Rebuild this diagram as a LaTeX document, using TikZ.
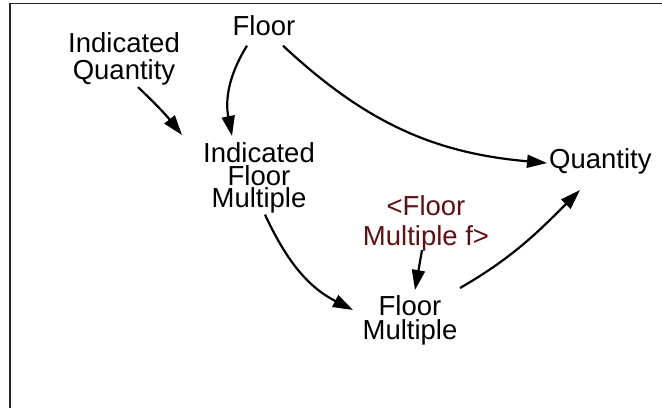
\documentclass[tikz,border=0pt]{standalone}
\usepackage{fontspec}
\setmainfont{Liberation Sans}
\usetikzlibrary{arrows.meta}
\definecolor{fmred}{RGB}{96,16,16}
\begin{document}
\begin{tikzpicture}[x=1bp,y=-1bp,
  var/.style={inner sep=0pt, outer sep=0pt, align=center, anchor=north},
  arr/.style={line width=2.2bp, -{Triangle[length=20bp,width=13bp]}, shorten >=0pt},
  frame/.style={line width=1.6bp, black!85}]
\useasboundingbox (0,0) rectangle (662,408);
\draw[frame] (10,408) -- (10,3.5) -- (662,3.5);

\node[var, font=\fontsize{27.5bp}{27bp}\selectfont] (IQ) at (124,32.5) {Indicated\\Quantity};
\node[var, font=\fontsize{27.5bp}{24bp}\selectfont] (F) at (264,15.5) {Floor};
\node[var, font=\fontsize{27.5bp}{22.5bp}\selectfont] (IFM) at (259,143) {Indicated\\Floor\\Multiple};
\node[inner sep=0pt, anchor=base west, font=\fontsize{27.5bp}{24bp}\selectfont] (Q) at (549,168) {Quantity};
\node[var, text=fmred, font=\fontsize{27.5bp}{30bp}\selectfont] (FMf) at (426,195.5) {<Floor\\Multiple f>};
\node[var, font=\fontsize{27.5bp}{24bp}\selectfont] (FM) at (410,295.5) {Floor\\Multiple};

\draw[arr] ([shift={(14,2)}]IQ.south) to[bend left=4] ([shift={(-77,-8)}]IFM.north);
\draw[arr] ([shift={(-17,10)}]F.south) to[out=238,in=101] ([shift={(-27,-7)}]IFM.north);
\draw[arr] ([shift={(19,10)}]F.south) to[out=317,in=175] ([shift={(-2,-5)}]Q.base west);
\draw[arr] ([shift={(6,1)}]IFM.south) to[out=295,in=153] ([shift={(-57,14.5)}]FM.north);
\draw[arr] ([shift={(-4,-1)}]FMf.south) -- ([shift={(5,-5.5)}]FM.north);
\draw[arr] ([shift={(50,-7.5)}]FM.north) to[out=30,in=225] ([shift={(31,22)}]Q.base west);
\end{tikzpicture}
\end{document}
